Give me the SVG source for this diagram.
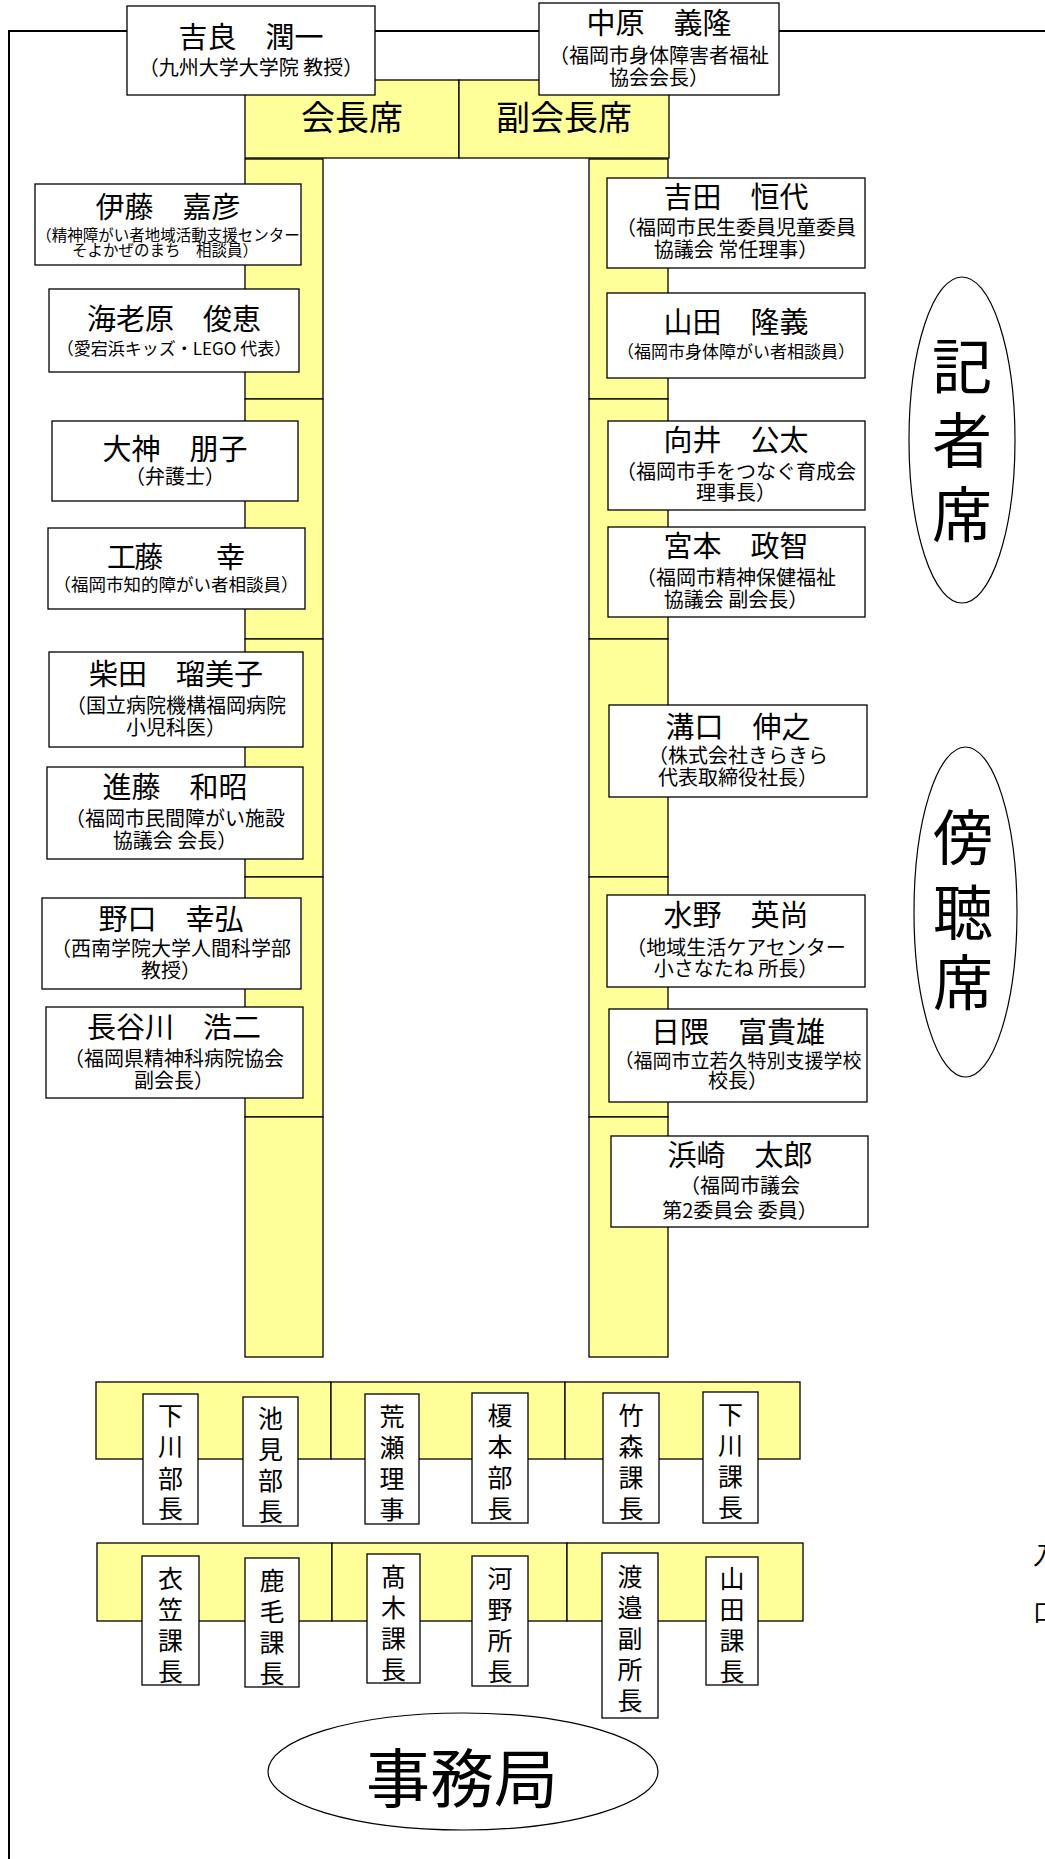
<svg xmlns="http://www.w3.org/2000/svg" width="1045" height="1859" viewBox="0 0 1045 1859">
<style>
text { font-family: "Noto Sans CJK JP", "Noto Sans CJK SC", sans-serif; fill: #000; }
.nm { font-size: 29px; text-anchor: middle; }
.sb { font-size: 20px; text-anchor: middle; }
.tg { font-size: 25px; text-anchor: middle; }
.big { font-size: 60px; text-anchor: middle; }
.box { fill: #fff; stroke: #000; stroke-width: 1.3; }
.ylw { fill: #FFFF99; stroke: #000; stroke-width: 1.3; }
.ell { fill: #fff; stroke: #000; stroke-width: 1.2; }
.frm { fill: none; stroke: #000; stroke-width: 2; }
</style>
<rect width="1045" height="1859" fill="#fff"/>

<g id="frame">
  <line class="frm" x1="9" y1="31" x2="1045" y2="31"/>
  <line class="frm" x1="9" y1="30" x2="9" y2="1859"/>
</g>

<g id="connectors"></g>

<!-- head table -->
<g id="chair-seat">
  <rect class="ylw" x="245" y="80" width="214" height="78"/>
  <text x="352" y="130" style="font-size:34px;text-anchor:middle">会長席</text>
</g>
<g id="vice-chair-seat">
  <rect class="ylw" x="459" y="80" width="210" height="78"/>
  <text x="564" y="130" style="font-size:34px;text-anchor:middle">副会長席</text>
</g>

<!-- side table columns -->
<g id="left-tables">
  <rect class="ylw" x="245" y="159" width="78" height="240"/>
  <rect class="ylw" x="245" y="399" width="78" height="240"/>
  <rect class="ylw" x="245" y="639" width="78" height="238"/>
  <rect class="ylw" x="245" y="877" width="78" height="240"/>
  <rect class="ylw" x="245" y="1117" width="78" height="240"/>
</g>
<g id="right-tables">
  <rect class="ylw" x="589" y="159" width="79" height="240"/>
  <rect class="ylw" x="589" y="399" width="79" height="240"/>
  <rect class="ylw" x="589" y="639" width="79" height="238"/>
  <rect class="ylw" x="589" y="877" width="79" height="240"/>
  <rect class="ylw" x="589" y="1117" width="79" height="240"/>
</g>

<!-- top name cards -->
<g id="kira">
  <rect class="box" x="127" y="6" width="248" height="89"/>
  <text class="nm" x="251" y="48">吉良　潤一</text>
  <text class="sb" x="251" y="75">（九州大学大学院 教授）</text>
</g>
<g id="nakahara">
  <rect class="box" x="539" y="3" width="240" height="92"/>
  <text class="nm" x="659" y="34">中原　義隆</text>
  <text class="sb" x="659" y="63">（福岡市身体障害者福祉</text>
  <text class="sb" x="659" y="85">協会会長）</text>
</g>

<!-- left side name cards -->
<g id="ito">
  <rect class="box" x="35" y="184" width="266" height="81"/>
  <text class="nm" x="168" y="218">伊藤　嘉彦</text>
  <text class="sb" x="168" y="241" style="font-size:15.5px">（精神障がい者地域活動支援センター</text>
  <text class="sb" x="165" y="256" style="font-size:15.5px">そよかぜのまち　相談員）</text>
</g>
<g id="ebihara">
  <rect class="box" x="49" y="289" width="250" height="83"/>
  <text class="nm" x="174" y="330">海老原　俊恵</text>
  <text class="sb" x="174" y="355" style="font-size:17px">（愛宕浜キッズ・LEGO 代表）</text>
</g>
<g id="ogami">
  <rect class="box" x="52" y="421" width="246" height="80"/>
  <text class="nm" x="175" y="460">大神　朋子</text>
  <text class="sb" x="175" y="484">（弁護士）</text>
</g>
<g id="kudo">
  <rect class="box" x="48" y="528" width="257" height="81"/>
  <text class="nm" x="176" y="568" textLength="138" lengthAdjust="spacing">工藤　　幸</text>
  <text class="sb" x="176" y="591" style="font-size:17.5px">（福岡市知的障がい者相談員）</text>
</g>
<g id="shibata">
  <rect class="box" x="49" y="652" width="254" height="95"/>
  <text class="nm" x="176" y="685">柴田　瑠美子</text>
  <text class="sb" x="176" y="713">（国立病院機構福岡病院</text>
  <text class="sb" x="176" y="735">小児科医）</text>
</g>
<g id="shindo">
  <rect class="box" x="47" y="767" width="256" height="92"/>
  <text class="nm" x="175" y="798">進藤　和昭</text>
  <text class="sb" x="175" y="826">（福岡市民間障がい施設</text>
  <text class="sb" x="175" y="848">協議会 会長）</text>
</g>
<g id="noguchi">
  <rect class="box" x="42" y="898" width="259" height="91"/>
  <text class="nm" x="171" y="930">野口　幸弘</text>
  <text class="sb" x="171" y="956">（西南学院大学人間科学部</text>
  <text class="sb" x="171" y="978">教授）</text>
</g>
<g id="hasegawa">
  <rect class="box" x="46" y="1007" width="257" height="91"/>
  <text class="nm" x="174" y="1038">長谷川　浩二</text>
  <text class="sb" x="174" y="1066">（福岡県精神科病院協会</text>
  <text class="sb" x="174" y="1088">副会長）</text>
</g>

<!-- right side name cards -->
<g id="yoshida">
  <rect class="box" x="607" y="178" width="258" height="90"/>
  <text class="nm" x="736" y="208">吉田　恒代</text>
  <text class="sb" x="736" y="235">（福岡市民生委員児童委員</text>
  <text class="sb" x="736" y="257">協議会 常任理事）</text>
</g>
<g id="yamada-takayoshi">
  <rect class="box" x="607" y="293" width="258" height="85"/>
  <text class="nm" x="736" y="333">山田　隆義</text>
  <text class="sb" x="736" y="358" style="font-size:17px">（福岡市身体障がい者相談員）</text>
</g>
<g id="mukai">
  <rect class="box" x="608" y="421" width="257" height="89"/>
  <text class="nm" x="736" y="451">向井　公太</text>
  <text class="sb" x="736" y="479">（福岡市手をつなぐ育成会</text>
  <text class="sb" x="736" y="500">理事長）</text>
</g>
<g id="miyamoto">
  <rect class="box" x="608" y="527" width="257" height="90"/>
  <text class="nm" x="736" y="557">宮本　政智</text>
  <text class="sb" x="736" y="585">（福岡市精神保健福祉</text>
  <text class="sb" x="736" y="607">協議会 副会長）</text>
</g>
<g id="mizoguchi">
  <rect class="box" x="609" y="705" width="258" height="92"/>
  <text class="nm" x="738" y="738">溝口　伸之</text>
  <text class="sb" x="738" y="763">（株式会社きらきら</text>
  <text class="sb" x="738" y="785">代表取締役社長）</text>
</g>
<g id="mizuno">
  <rect class="box" x="607" y="895" width="258" height="92"/>
  <text class="nm" x="736" y="926">水野　英尚</text>
  <text class="sb" x="736" y="955">（地域生活ケアセンター</text>
  <text class="sb" x="736" y="976">小さなたね 所長）</text>
</g>
<g id="hikuma">
  <rect class="box" x="609" y="1009" width="258" height="93"/>
  <text class="nm" x="738" y="1043">日隈　富貴雄</text>
  <text class="sb" x="738" y="1068" style="font-size:19px">（福岡市立若久特別支援学校</text>
  <text class="sb" x="738" y="1088">校長）</text>
</g>
<g id="hamasaki">
  <rect class="box" x="611" y="1136" width="257" height="91"/>
  <text class="nm" x="740" y="1166">浜崎　太郎</text>
  <text class="sb" x="740" y="1193">（福岡市議会</text>
  <text class="sb" x="740" y="1218">第2委員会 委員）</text>
</g>

<!-- press / gallery -->
<g id="press-seats">
  <ellipse class="ell" cx="962" cy="440" rx="53" ry="163"/>
  <text class="big" x="962" y="389">記</text>
  <text class="big" x="962" y="463">者</text>
  <text class="big" x="962" y="537">席</text>
</g>
<g id="gallery-seats">
  <ellipse class="ell" cx="965.5" cy="912" rx="51.5" ry="165"/>
  <text class="big" x="963" y="860">傍</text>
  <text class="big" x="963" y="935">聴</text>
  <text class="big" x="963" y="1005">席</text>
</g>

<!-- secretariat tables -->
<g id="secretariat-table-1">
  <rect class="ylw" x="96" y="1382" width="235" height="77"/>
  <rect class="ylw" x="331" y="1382" width="234" height="77"/>
  <rect class="ylw" x="565" y="1382" width="235" height="77"/>
</g>
<g id="secretariat-table-2">
  <rect class="ylw" x="97" y="1543" width="235" height="78"/>
  <rect class="ylw" x="332" y="1543" width="235" height="78"/>
  <rect class="ylw" x="567" y="1543" width="236" height="78"/>
</g>

<g id="shimokawa-bucho">
  <rect class="box" x="143" y="1394" width="55" height="130"/>
  <text class="tg"><tspan x="170.5" y="1425">下</tspan><tspan x="170.5" y="1456">川</tspan><tspan x="170.5" y="1488">部</tspan><tspan x="170.5" y="1518">長</tspan></text>
</g>
<g id="ikemi-bucho">
  <rect class="box" x="243" y="1397" width="55" height="129"/>
  <text class="tg"><tspan x="270.5" y="1428">池</tspan><tspan x="270.5" y="1459">見</tspan><tspan x="270.5" y="1490">部</tspan><tspan x="270.5" y="1521">長</tspan></text>
</g>
<g id="arase-riji">
  <rect class="box" x="365" y="1394" width="54" height="130"/>
  <text class="tg"><tspan x="392" y="1426">荒</tspan><tspan x="392" y="1457">瀬</tspan><tspan x="392" y="1488">理</tspan><tspan x="392" y="1519">事</tspan></text>
</g>
<g id="enomoto-bucho">
  <rect class="box" x="472" y="1393" width="56" height="130"/>
  <text class="tg"><tspan x="500" y="1425">榎</tspan><tspan x="500" y="1456">本</tspan><tspan x="500" y="1487">部</tspan><tspan x="500" y="1518">長</tspan></text>
</g>
<g id="takemori-kacho">
  <rect class="box" x="603" y="1393" width="56" height="130"/>
  <text class="tg"><tspan x="631" y="1425">竹</tspan><tspan x="631" y="1456">森</tspan><tspan x="631" y="1487">課</tspan><tspan x="631" y="1518">長</tspan></text>
</g>
<g id="shimokawa-kacho">
  <rect class="box" x="703" y="1392" width="55" height="131"/>
  <text class="tg"><tspan x="730.5" y="1424">下</tspan><tspan x="730.5" y="1455">川</tspan><tspan x="730.5" y="1486">課</tspan><tspan x="730.5" y="1517">長</tspan></text>
</g>

<g id="kinugasa-kacho">
  <rect class="box" x="142" y="1556" width="57" height="129"/>
  <text class="tg"><tspan x="170.5" y="1588">衣</tspan><tspan x="170.5" y="1619">笠</tspan><tspan x="170.5" y="1650">課</tspan><tspan x="170.5" y="1681">長</tspan></text>
</g>
<g id="kage-kacho">
  <rect class="box" x="245" y="1558" width="54" height="129"/>
  <text class="tg"><tspan x="272" y="1590">鹿</tspan><tspan x="272" y="1621">毛</tspan><tspan x="272" y="1652">課</tspan><tspan x="272" y="1683">長</tspan></text>
</g>
<g id="takagi-kacho">
  <rect class="box" x="367" y="1554" width="53" height="129"/>
  <text class="tg"><tspan x="393.5" y="1586">髙</tspan><tspan x="393.5" y="1617">木</tspan><tspan x="393.5" y="1648">課</tspan><tspan x="393.5" y="1679">長</tspan></text>
</g>
<g id="kawano-shocho">
  <rect class="box" x="472" y="1556" width="56" height="130"/>
  <text class="tg"><tspan x="500" y="1588">河</tspan><tspan x="500" y="1619">野</tspan><tspan x="500" y="1650">所</tspan><tspan x="500" y="1681">長</tspan></text>
</g>
<g id="watanabe-fukushocho">
  <rect class="box" x="602" y="1553" width="56" height="165"/>
  <text class="tg"><tspan x="630" y="1586">渡</tspan><tspan x="630" y="1617">邉</tspan><tspan x="630" y="1648">副</tspan><tspan x="630" y="1679">所</tspan><tspan x="630" y="1710">長</tspan></text>
</g>
<g id="yamada-kacho">
  <rect class="box" x="706" y="1557" width="52" height="128"/>
  <text class="tg"><tspan x="732" y="1588">山</tspan><tspan x="732" y="1619">田</tspan><tspan x="732" y="1650">課</tspan><tspan x="732" y="1681">長</tspan></text>
</g>

<g id="secretariat">
  <ellipse class="ell" cx="463" cy="1771.5" rx="195" ry="58.5"/>
  <text x="462" y="1802" style="font-size:64px;text-anchor:middle">事務局</text>
</g>

<g id="entrance">
  <text x="1033" y="1564" style="font-size:24px">入</text>
  <text x="1033" y="1621" style="font-size:24px">口</text>
</g>
</svg>
